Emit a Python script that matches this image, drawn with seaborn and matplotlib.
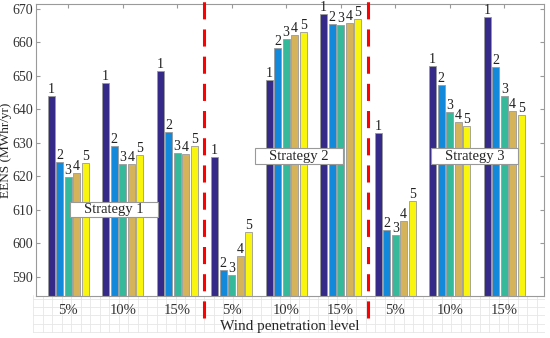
import matplotlib
matplotlib.use("Agg")
import matplotlib.pyplot as plt
from matplotlib.patches import Rectangle
import numpy as np
import pandas as pd
import seaborn as sns

# Data
levels = ["5%", "10%", "15%"]
strategies = ["Strategy 1", "Strategy 2", "Strategy 3"]
cases = ["1", "2", "3", "4", "5"]

s1_5 = [644.0, 624.4, 619.9, 621.1, 624.1]
s1_10 = [647.8, 628.9, 623.6, 623.8, 626.4]
s1_15 = [651.6, 633.1, 627.1, 626.8, 628.9]
s2_5 = [625.7, 591.9, 590.5, 596.3, 603.3]
s2_10 = [648.7, 658.4, 660.9, 662.2, 663.1]
s2_15 = [668.6, 665.4, 665.2, 665.9, 666.9]
s3_5 = [632.8, 603.8, 602.3, 606.7, 612.5]
s3_10 = [653.1, 647.3, 639.3, 636.1, 635.0]
s3_15 = [667.7, 652.7, 644.0, 639.6, 638.3]

groups = [s1_5, s1_10, s1_15, s2_5, s2_10, s2_15, s3_5, s3_10, s3_15]

rows = []
for g, vals in enumerate(groups):
    for c, v in zip(cases, vals):
        rows.append({"group": g, "case": c, "EENS": v})
df = pd.DataFrame(rows)

# parula-like colours
colors = ["#352a87", "#1389dc", "#36b89b", "#d4b35a", "#f9f50f"]

sns.set_style("white")
plt.rcParams["font.family"] = ["Liberation Serif", "DejaVu Serif"]

fig = plt.figure(figsize=(5.5, 3.38), dpi=100)

# graph-paper strip under the x axis
bg = fig.add_axes([33 / 550, 5 / 338, 512 / 550, 38 / 338], zorder=0)
bg.set_xlim(0, 512)
bg.set_ylim(0, 38)
bg.set_xticks(np.arange(0, 512, 9.5))
bg.set_yticks(np.arange(1, 38, 8.3))
bg.grid(True, color="#e6e6e6", linewidth=0.6)
bg.tick_params(length=0, labelbottom=False, labelleft=False)
for s in bg.spines.values():
    s.set_visible(False)
bg.patch.set_alpha(0)

ax = fig.add_axes([36 / 550, 1 - 296 / 338, 508 / 550, 292 / 338], zorder=2)
sns.barplot(data=df, x="group", y="EENS", hue="case", palette=colors,
            saturation=1, width=0.78, gap=0.15, edgecolor="#9a9a9a",
            linewidth=0.6, legend=False, ax=ax)

ax.set_ylim(584.2, 671.5)
ax.set_xlim(-0.59, 8.73)
ax.set_yticks(np.arange(590, 671, 10))
ax.set_xticks(range(9))
ax.set_xticklabels(levels * 3, fontsize=10.5, color="#333333")
ax.tick_params(axis="y", labelsize=10, labelcolor="#333333", pad=2)
ax.tick_params(direction="in", length=3, color="#999999",
               top=True, right=True, bottom=True, left=True)
ax.tick_params(axis="x", pad=6)
for s in ax.spines.values():
    s.set_color("#9a9a9a")
    s.set_linewidth(0.8)

ax.set_ylabel("EENS (MWhr/yr)", fontsize=9.5)
ax.yaxis.set_label_coords(-0.048, 0.5)
ax.set_xlabel("Wind penetration level", fontsize=11, labelpad=2)

# numbers above bars
for i, cont in enumerate(ax.containers):
    ax.bar_label(cont, labels=[cases[i]] * len(cont), padding=0,
                 fontsize=10, color="#222222")

# red dashed separators
for xs in [2.5, 5.5]:
    ax.plot([xs, xs], [577.6, 672.7], color="red", linewidth=2.2,
            dashes=(5.6, 3.3), clip_on=False, zorder=5)

# strategy boxes
boxes = [(0.04, 607.7, 1.6, 4.5), (3.43, 623.6, 1.61, 4.8), (6.66, 623.6, 1.6, 4.8)]
for name, (bx, by, bw, bh) in zip(strategies, boxes):
    ax.add_patch(Rectangle((bx, by), bw, bh, facecolor="white",
                           edgecolor="#999999", linewidth=0.8, zorder=6))
    ax.text(bx + bw / 2, by + bh / 2, name, ha="center", va="center",
            fontsize=10.5, zorder=7)

fig.savefig("out.png", dpi=100)
